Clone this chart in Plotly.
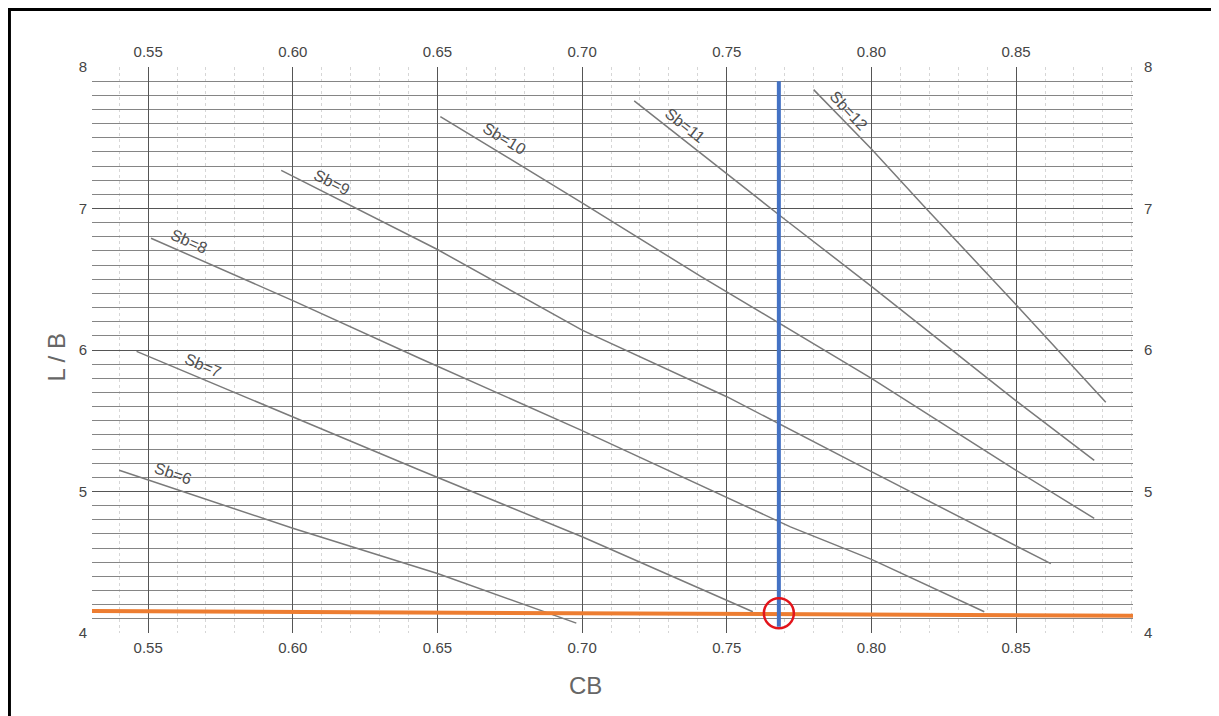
import plotly.graph_objects as go

# ---- data ----
sb_names = ["Sb=6", "Sb=7", "Sb=8", "Sb=9", "Sb=10", "Sb=11", "Sb=12"]
cb_6 = [0.540, 0.600, 0.650, 0.698]
lb_6 = [5.15, 4.74, 4.42, 4.07]
cb_7 = [0.546, 0.600, 0.644, 0.700, 0.759]
lb_7 = [5.99, 5.53, 5.15, 4.68, 4.15]
cb_8 = [0.551, 0.601, 0.644, 0.700, 0.772, 0.800, 0.839]
lb_8 = [6.79, 6.34, 5.94, 5.43, 4.75, 4.52, 4.15]
cb_9 = [0.596, 0.650, 0.700, 0.750, 0.800, 0.850, 0.862]
lb_9 = [7.27, 6.71, 6.14, 5.67, 5.14, 4.62, 4.49]
cb_10 = [0.651, 0.700, 0.741, 0.800, 0.850, 0.877]
lb_10 = [7.65, 7.04, 6.52, 5.80, 5.15, 4.81]
cb_11 = [0.718, 0.751, 0.769, 0.800, 0.850, 0.877]
lb_11 = [7.76, 7.23, 6.94, 6.45, 5.64, 5.22]
cb_12 = [0.780, 0.800, 0.818, 0.850, 0.881]
lb_12 = [7.84, 7.42, 7.02, 6.32, 5.63]

# selected design point
cb_sel = 0.768
lb_sel = 4.14
blue_lb = [4.045, 7.90]
orange_cb = [0.5306, 0.8904]
orange_lb = [4.155, 4.122]

x_range = [0.5306, 0.8904]
y_range = [4, 8]

# label placement (layout)
label_cb = [0.5586, 0.5690, 0.5642, 0.6136, 0.6731, 0.7356, 0.7920]
label_lb = [5.125, 5.89, 6.765, 7.185, 7.495, 7.585, 7.69]
label_angle = [19, 23, 24, 27, 31, 38, 47]

series_cb = [cb_6, cb_7, cb_8, cb_9, cb_10, cb_11, cb_12]
series_lb = [lb_6, lb_7, lb_8, lb_9, lb_10, lb_11, lb_12]

fig = go.Figure()
for name, xs, ys in zip(sb_names, series_cb, series_lb):
    fig.add_trace(go.Scatter(x=xs, y=ys, mode="lines", name=name,
                             line=dict(color="#7a7a7a", width=1.5),
                             showlegend=False, hoverinfo="skip"))

# orange horizontal and blue vertical guide lines
fig.add_trace(go.Scatter(x=orange_cb, y=orange_lb, mode="lines",
                         line=dict(color="#ED7D31", width=4),
                         showlegend=False, hoverinfo="skip"))
fig.add_trace(go.Scatter(x=[cb_sel, cb_sel], y=blue_lb, mode="lines",
                         line=dict(color="#4472C4", width=4),
                         showlegend=False, hoverinfo="skip"))

# dummy trace for the secondary (top/right) axes
fig.add_trace(go.Scatter(x=[cb_sel], y=[lb_sel], xaxis="x2", yaxis="y2",
                         mode="markers", marker=dict(opacity=0),
                         showlegend=False, hoverinfo="skip"))

# red circle around the selected point
rx = 15 / 2893
ry = 15 / 141.5
fig.add_shape(type="circle", xref="x", yref="y",
              x0=cb_sel - rx, x1=cb_sel + rx, y0=lb_sel - ry, y1=lb_sel + ry,
              line=dict(color="#E3141B", width=2.5))

# outer frame
fig.add_shape(type="rect", xref="paper", yref="paper",
              x0=-0.0793, x1=1.0778, y0=-0.17, y1=1.1016,
              line=dict(color="black", width=3), layer="above")

for name, x, y, a in zip(sb_names, label_cb, label_lb, label_angle):
    fig.add_annotation(x=x, y=y, xref="x", yref="y", text=name, showarrow=False,
                       textangle=a, font=dict(family="Liberation Sans", size=16, color="#505050"))

# axis titles
fig.add_annotation(x=0.4736, y=-0.120, xref="paper", yref="paper", text="CB",
                   showarrow=False, font=dict(family="Liberation Sans", size=24, color="#666"))
fig.add_annotation(x=-0.049, y=0.4876, xref="paper", yref="paper", text="L / B",
                   textangle=-90, showarrow=False,
                   font=dict(family="Liberation Sans", size=24, color="#666"))

tickfont = dict(family="Liberation Sans", size=15, color="#454545")

fig.update_layout(
    width=1211, height=708,
    margin=dict(l=84, r=86, t=59, b=83),
    paper_bgcolor="white", plot_bgcolor="white",
    xaxis=dict(range=x_range, tick0=0.55, dtick=0.05, tickformat=".2f",
               showgrid=True, gridcolor="#555555", gridwidth=1.2,
               zeroline=False, showline=False, ticks="",
               ticklabelstandoff=4, tickfont=tickfont,
               minor=dict(tick0=0.55, dtick=0.01, showgrid=True,
                          gridcolor="#d6d6d6", griddash="dot", gridwidth=1)),
    yaxis=dict(range=y_range, tick0=4, dtick=1,
               showgrid=True, gridcolor="#555555", gridwidth=1.2,
               zeroline=False, showline=False, ticks="",
               ticklabelstandoff=4, tickfont=tickfont,
               minor=dict(tick0=4, dtick=0.1, showgrid=True,
                          gridcolor="#858585", gridwidth=1)),
    xaxis2=dict(overlaying="x", side="top", matches="x", range=x_range,
                tick0=0.55, dtick=0.05, tickformat=".2f", showgrid=False,
                zeroline=False, showline=False, ticks="",
                ticklabelstandoff=6, tickfont=tickfont),
    yaxis2=dict(overlaying="y", side="right", matches="y", range=y_range,
                tick0=4, dtick=1, showgrid=False, zeroline=False,
                showline=False, ticks="", ticklabelstandoff=10,
                tickfont=tickfont),
)

fig.write_html("out.html")
